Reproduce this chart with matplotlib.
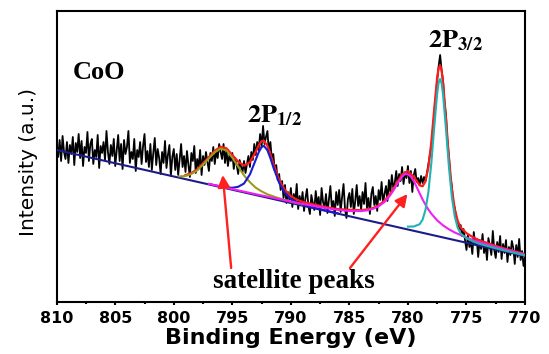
import numpy as np
import matplotlib
matplotlib.use("Agg")
import matplotlib.pyplot as plt
from matplotlib.ticker import MultipleLocator

###############################################################################
# Data (intensity in arbitrary units)

# measured spectrum, 810 -> 770 eV in 0.125 eV steps (one row per eV)
energy = np.linspace(810, 770, 321)
counts = [158, 145, 162, 141, 166, 150, 143, 160,
          139, 157, 148, 165, 137, 159, 150, 168,
          144, 161, 136, 155, 149, 170, 141, 158,
          163, 138, 152, 145, 167, 134, 156, 149,
          160, 142, 171, 150, 138, 157, 146, 163,
          136, 152, 167, 141, 158, 133, 162, 148,
          155, 171, 139, 150, 143, 163, 131, 152,
          145, 160, 138, 156, 168, 140, 151, 135,
          158, 132, 149, 164, 137, 153, 144, 128,
          150, 139, 161, 134, 147, 157, 126, 145,
          153, 132, 148, 127, 142, 158, 135, 146,
          130, 151, 137, 125, 149, 141, 156, 129,
          143, 134, 152, 127, 146, 137, 150, 140,
          131, 149, 141, 155, 138, 151, 144, 158,
          150, 143, 158, 139, 152, 136, 147, 141,
          149, 133, 144, 137, 128, 142, 135, 130,
          141, 129, 138, 146, 135, 150, 142, 158,
          147, 160, 152, 168, 155, 176, 158, 165,
          171, 149, 160, 143, 148, 131, 137, 122,
          128, 112, 121, 104, 117, 99, 110, 102,
          114, 95, 108, 100, 118, 93, 106, 97,
          110, 91, 104, 113, 96, 88, 107, 99,
          92, 111, 97, 105, 87, 114, 100, 94,
          108, 89, 103, 116, 94, 101, 86, 110,
          97, 112, 90, 105, 118, 93, 84, 103,
          109, 95, 113, 88, 101, 117, 96, 106,
          92, 110, 98, 119, 94, 104, 88, 108,
          115, 97, 106, 91, 112, 102, 120, 99,
          108, 116, 101, 122, 110, 127, 114, 119,
          131, 116, 128, 121, 135, 118, 130, 124,
          136, 119, 131, 110, 127, 133, 120, 124,
          117, 126, 119, 125, 121, 129, 138, 147,
          155, 172, 190, 205, 222, 236, 247, 232,
          221, 199, 187, 160, 146, 125, 116, 99,
          94, 84, 79, 72, 77, 66, 73, 62,
          52, 67, 55, 61, 48, 70, 57, 63,
          45, 62, 53, 68, 49, 58, 42, 64,
          56, 47, 71, 52, 44, 60, 50, 66,
          43, 58, 49, 62, 40, 55, 47, 61,
          54, 38, 57, 45, 63, 42, 51, 36,
          45]

# background (straight line)
bg_e = [810, 770]
bg_i = [152, 46]

# satellite of 2p1/2 (olive)
sat1_e = [799.5, 799, 798.5, 798, 797.5, 797, 796.5, 796, 795.5, 795, 794.5,
          794, 793.5, 793, 792.5, 792, 791.5, 791, 790.5, 790, 789.5, 789]
sat1_i = [125.6, 126.0, 128.0, 131.5, 137.4, 143.6, 149.7, 153.4, 151.6, 144.3,
          135.4, 126.6, 119.8, 114.3, 110.6, 107.7, 105.6, 103.7, 101.9, 100.4,
          98.9, 97.4]

# 2p1/2 (blue)
p12_e = [797, 796.5, 796, 795.5, 795, 794.5, 794, 793.5, 793, 792.75, 792.5,
         792.3, 792, 791.75, 791.5, 791, 790.5, 790, 789.5, 789, 788, 787, 786]
p12_i = [118.0, 116.8, 115.6, 114.6, 114.2, 115.2, 118.5, 127.5, 142.2, 149.7,
         154.9, 156.1, 151.7, 143.9, 134.9, 119.1, 109.0, 103.0, 99.6, 97.5,
         94.3, 91.5, 88.7]

# satellite of 2p3/2 (magenta)
sat2_e = [797, 795, 793, 791, 789, 787, 786, 785, 784, 783.5, 783, 782.5, 782,
          781.75, 781.5, 781.25, 781, 780.75, 780.5, 780.25, 780, 779.75,
          779.5, 779.25, 779, 778.75, 778.5, 778.25, 778, 777.5, 777, 776.5,
          776, 775, 774, 773, 772, 771, 770]
sat2_i = [118.1, 112.9, 107.8, 102.9, 98.1, 93.9, 92.1, 91.0, 90.9, 91.6, 93.1,
          95.7, 100.1, 103.2, 107.0, 111.3, 116.3, 121.1, 125.3, 127.9, 127.8,
          125.4, 120.9, 114.9, 108.7, 102.6, 97.2, 92.4, 88.3, 81.6, 76.6,
          72.7, 69.5, 64.4, 60.2, 56.7, 53.4, 50.4, 47.4]

# 2p3/2 (cyan)
p32_e = [780, 779.5, 779, 778.75, 778.5, 778.25, 778, 777.75, 777.5, 777.375,
         777.25, 777.125, 777, 776.75, 776.5, 776.25, 776, 775.75, 775.5, 775,
         774.5, 774, 773, 772, 771, 770]
p32_i = [75.4, 75.5, 77.8, 82.3, 92.1, 110.3, 139.2, 175.4, 208.9, 219.4,
         223.0, 218.7, 207.6, 172.8, 135.2, 105.0, 85.5, 74.4, 68.5, 63.7,
         60.9, 58.6, 55.3, 52.2, 49.4, 46.5]

# cumulative fit (red)
fit_e = [799, 798.5, 798, 797.5, 797, 796.5, 796, 795.5, 795, 794.5, 794,
         793.5, 793, 792.75, 792.5, 792.3, 792, 791.75, 791.5, 791, 790.5, 790,
         789.5, 789, 788, 787, 786, 785, 784, 783.5, 783, 782.5, 782, 781.5,
         781, 780.5, 780, 779.5, 779, 778.75, 778.5, 778.25, 778, 777.75,
         777.5, 777.375, 777.25, 777.125, 777, 776.75, 776.5, 776.25, 776,
         775.75, 775.5, 775, 774.5, 774, 773, 772, 771, 770]
fit_i = [126.9, 129.0, 132.6, 138.7, 145.0, 151.2, 155.2, 153.7, 147.0, 140.4,
         136.3, 139.8, 150.3, 156.6, 160.8, 161.3, 156.1, 147.9, 138.6, 122.3,
         111.9, 105.8, 102.4, 100.2, 97.3, 94.9, 92.9, 92.2, 91.8, 92.6, 93.9,
         96.7, 101.3, 108.4, 117.9, 127.5, 130.8, 125.2, 116.6, 115.7, 120.7,
         134.8, 160.2, 193.5, 224.6, 234.0, 236.7, 231.5, 219.6, 183.4, 144.6,
         113.4, 93.0, 81.2, 74.6, 68.8, 65.2, 62.2, 58.0, 54.3, 51.1, 47.9]

###############################################################################
# Plot

plt.rcParams['font.family'] = 'DejaVu Sans'
plt.rcParams['mathtext.fontset'] = 'stix'

fig = plt.figure(figsize=(5.49, 3.54), dpi=100)
ax = fig.add_axes([0.1033, 0.1469, 0.853, 0.8229])

ax.plot(energy, counts, color='black', lw=1.3, zorder=1)
ax.plot(fit_e, fit_i, color='#ff1a1a', lw=1.6, zorder=2)
ax.plot(bg_e, bg_i, color='#1c1c88', lw=1.5, zorder=3)
ax.plot(sat1_e, sat1_i, color='#9c9c1a', lw=1.5, zorder=4)
ax.plot(p12_e, p12_i, color='#1a1ad0', lw=1.5, zorder=4)
ax.plot(sat2_e, sat2_i, color='#f020f0', lw=1.5, zorder=4)
ax.plot(p32_e, p32_i, color='#20b4b0', lw=1.5, zorder=4)

# labels inside the plot
ax.text(808.6, 229.5, 'CoO', fontsize=19, fontweight='bold',
        family='Liberation Serif', ha='left', va='center')
ax.text(793.75, 180, r'$\mathbf{2P_{1/2}}$', fontsize=19,
        ha='left', va='baseline')
ax.text(778.3, 255, r'$\mathbf{2P_{3/2}}$', fontsize=19,
        ha='left', va='baseline')
ax.text(789.7, 20, 'satellite peaks', fontsize=19.5, fontweight='bold',
        family='Liberation Serif', ha='center', va='center')

arrow = dict(arrowstyle='-|>', color='#ff2020', lw=1.7, mutation_scale=18,
             shrinkA=0, shrinkB=0)
ax.annotate('', xy=(795.82, 127), xytext=(795.1, 34), arrowprops=arrow,
            zorder=5)
ax.annotate('', xy=(780.04, 108), xytext=(784.95, 34), arrowprops=arrow,
            zorder=5)

# axes
ax.set_xlim(810, 770)
ax.set_ylim(0, 291.3)
ax.set_yticks([])
ax.xaxis.set_major_locator(MultipleLocator(5))
ax.xaxis.set_minor_locator(MultipleLocator(2.5))
ax.tick_params(axis='x', which='major', direction='out', length=2.5,
               width=1.5, labelsize=11.5, pad=4)
ax.tick_params(axis='x', which='minor', direction='out', length=1.5, width=1.5)
for lab in ax.get_xticklabels():
    lab.set_fontweight('bold')
for sp in ax.spines.values():
    sp.set_linewidth(1.5)

ax.set_xlabel('Binding Energy (eV)', fontsize=16, fontweight='bold')
ax.xaxis.set_label_coords(0.5, -0.09)
ax.set_ylabel('Intensity (a.u.)', fontsize=14.5)
ax.yaxis.set_label_coords(-0.04, 0.48)

fig.savefig('out.png', dpi=100)
